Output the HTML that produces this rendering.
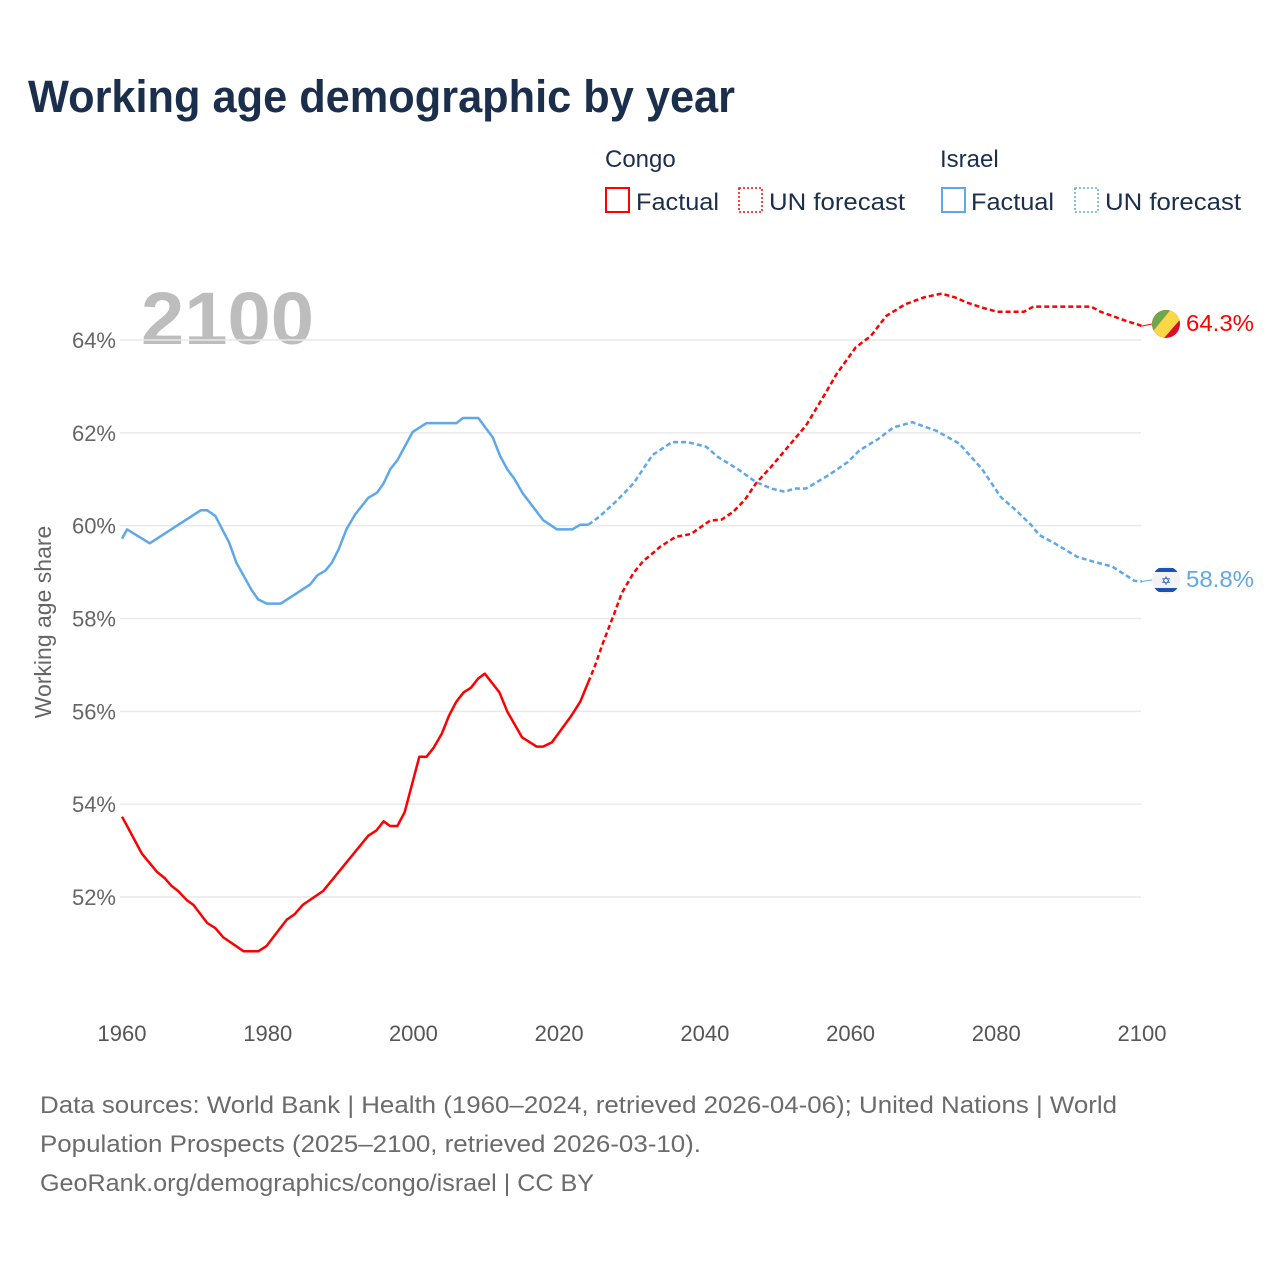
<!DOCTYPE html>
<html><head><meta charset="utf-8"><style>
html,body{margin:0;padding:0;background:#fff;}
body{width:1280px;height:1280px;overflow:hidden;font-family:"Liberation Sans",sans-serif;}
</style></head><body>
<svg id="chart" width="1280" height="1280" viewBox="0 0 1280 1280" xmlns="http://www.w3.org/2000/svg" font-family="Liberation Sans, sans-serif">
<text x="28" y="112" font-size="45" font-weight="bold" fill="#1b2f4d" textLength="707" lengthAdjust="spacingAndGlyphs">Working age demographic by year</text>
<g>
<text x="605" y="167" font-size="24" fill="#1b2f4d">Congo</text>
<text x="940" y="167" font-size="24" fill="#1b2f4d">Israel</text>
<g><rect x="606" y="188" width="23" height="24" fill="none" stroke="#f00" stroke-width="2"/><text x="636" y="210" font-size="24" fill="#1b2f4d" textLength="83" lengthAdjust="spacingAndGlyphs">Factual</text></g>
<g><rect x="739" y="188" width="23" height="24" fill="none" stroke="#f00" stroke-width="1.5" stroke-dasharray="2,2"/><text x="769" y="210" font-size="24" fill="#1b2f4d" textLength="136" lengthAdjust="spacingAndGlyphs">UN forecast</text></g>
<g><rect x="942" y="188" width="23" height="24" fill="none" stroke="#5ea8ea" stroke-width="2"/><text x="971" y="210" font-size="24" fill="#1b2f4d" textLength="83" lengthAdjust="spacingAndGlyphs">Factual</text></g>
<g><rect x="1075" y="188" width="23" height="24" fill="none" stroke="#5ea8ea" stroke-width="1.5" stroke-dasharray="2,2"/><text x="1105" y="210" font-size="24" fill="#1b2f4d" textLength="136" lengthAdjust="spacingAndGlyphs">UN forecast</text></g>
</g>
<text x="141" y="344" font-size="74" font-weight="bold" fill="#bdbdbd" textLength="173" lengthAdjust="spacingAndGlyphs">2100</text>
<g id="grid"></g>
<g id="yticks"></g>
<g id="xticks"></g>
<text transform="translate(51,622) rotate(-90)" text-anchor="middle" font-size="23" fill="#666">Working age share</text>
<g id="series"></g>
<g>
<clipPath id="cc"><circle cx="1166" cy="324" r="14"/></clipPath>
<g clip-path="url(#cc)"><rect x="1150" y="308" width="32" height="32" fill="#dc0d2a"/><polygon points="1150,308 1172,308 1150,335" fill="#6fa84a"/><polygon points="1172,308 1184,308 1184,315 1158,345 1150,345 1150,335" fill="#fcd746"/></g>
<text x="1186" y="331" font-size="23" fill="#f00" textLength="68" lengthAdjust="spacingAndGlyphs">64.3%</text>
</g>
<g>
<clipPath id="ci"><circle cx="1166" cy="580" r="14"/></clipPath>
<g clip-path="url(#ci)"><rect x="1150" y="564" width="32" height="32" fill="#f2f2f2"/><rect x="1150" y="568" width="32" height="4" fill="#1a52b5"/><rect x="1150" y="588" width="32" height="4" fill="#1a52b5"/></g>
<text x="1166" y="585" font-size="12" text-anchor="middle" fill="#1a52b5">✡</text>
<text x="1186" y="587" font-size="23" fill="#5ea8ea" textLength="68" lengthAdjust="spacingAndGlyphs">58.8%</text>
</g>
<g font-size="24" fill="#6b6b6b">
<text x="40" y="1113" textLength="1077" lengthAdjust="spacingAndGlyphs">Data sources: World Bank | Health (1960–2024, retrieved 2026-04-06); United Nations | World</text>
<text x="40" y="1152" textLength="661" lengthAdjust="spacingAndGlyphs">Population Prospects (2025–2100, retrieved 2026-03-10).</text>
<text x="40" y="1191" textLength="554" lengthAdjust="spacingAndGlyphs">GeoRank.org/demographics/congo/israel | CC BY</text>
</g>
</svg>
<script>
const yTicks=[52,54,56,58,60,62,64];
const yTickLabels=["52%","54%","56%","58%","60%","62%","64%"];
const xTicks=[1960,1980,2000,2020,2040,2060,2080,2100];
const xTickLabels=["1960","1980","2000","2020","2040","2060","2080","2100"];
const congoFactYears=[1960,1960.7,1962.7,1964.8,1965.9,1966.8,1967.7,1968.9,1969.8,1971.7,1972.8,1973.9,1976.7,1978.7,1979.8,1982.6,1983.7,1984.8,1987.6,1993.8,1994.9,1995.9,1996.8,1997.8,1998.8,2000.8,2001.8,2002.8,2003.9,2004.9,2005.9,2006.9,2007.9,2008.9,2009.8,2011.8,2012.9,2014.9,2016.9,2017.8,2019,2021.7,2022.9,2024];
const congoFactValues=[53.73,53.53,52.94,52.54,52.40,52.24,52.13,51.93,51.83,51.44,51.33,51.13,50.83,50.83,50.94,51.51,51.63,51.83,52.13,53.32,53.43,53.63,53.53,53.53,53.83,55.02,55.02,55.22,55.52,55.91,56.21,56.41,56.51,56.71,56.81,56.41,55.99,55.44,55.24,55.24,55.33,55.91,56.21,56.63];
const congoFcYears=[2024,2024.9,2026,2027.6,2028.6,2030.2,2031.5,2032.8,2033.9,2036,2038.1,2040.7,2042.3,2043.9,2045.5,2047,2049.1,2051.2,2053.9,2056.5,2058.1,2060.7,2062.8,2064.9,2067.5,2070.1,2072.5,2074.3,2075.9,2078,2080.1,2083.8,2085.1,2093,2094.3,2095.9,2098,2099.5,2100];
const congoFcValues=[56.63,56.97,57.47,58.12,58.55,58.98,59.23,59.4,59.55,59.76,59.82,60.11,60.13,60.3,60.56,60.91,61.27,61.66,62.16,62.84,63.27,63.84,64.09,64.52,64.77,64.92,65.0,64.92,64.81,64.7,64.61,64.61,64.72,64.72,64.61,64.52,64.4,64.33,64.3];
const israelFactYears=[1960,1960.7,1963.8,1970.8,1971.7,1972.8,1974.7,1975.7,1977.8,1978.7,1979.9,1981.8,1985.8,1986.8,1987.9,1988.8,1989.7,1990.8,1992,1993.8,1995,1995.9,1996.8,1997.8,1999.9,2001.8,2005.9,2006.8,2008.9,2010.9,2011.9,2012.9,2013.8,2015,2017.8,2019.7,2021.8,2022.9,2024];
const israelFactValues=[59.72,59.92,59.62,60.33,60.33,60.21,59.64,59.2,58.61,58.41,58.32,58.32,58.73,58.93,59.03,59.2,59.48,59.92,60.24,60.6,60.71,60.91,61.21,61.41,62.02,62.21,62.21,62.32,62.32,61.9,61.5,61.21,61.02,60.7,60.12,59.92,59.92,60.02,60.02];
const israelFcYears=[2024,2025.5,2028,2030.2,2032.8,2035.5,2037.6,2040.2,2041.8,2044.4,2047,2049.1,2051,2052.3,2053.9,2057,2059.6,2061.2,2063.8,2065.9,2068.5,2070,2071.7,2074.9,2078,2080.6,2082.7,2084.8,2085.9,2088,2091.1,2093.2,2095.9,2099,2100];
const israelFcValues=[60.02,60.19,60.55,60.91,61.52,61.8,61.8,61.7,61.48,61.23,60.94,60.8,60.73,60.8,60.8,61.09,61.37,61.62,61.87,62.12,62.23,62.14,62.05,61.77,61.23,60.62,60.33,60.01,59.8,59.62,59.33,59.23,59.12,58.81,58.8];

const NS="http://www.w3.org/2000/svg";
const X0=122,X1=1142,Y0=340,Y1=897;
function xs(yr){return X0+(yr-1960)*(X1-X0)/140;}
function ys(v){return Y0+(64-v)*(Y1-Y0)/12;}
function mk(tag,attrs,parent){const e=document.createElementNS(NS,tag);for(const k in attrs)e.setAttribute(k,attrs[k]);parent.appendChild(e);return e;}
const grid=document.getElementById('grid'),yt=document.getElementById('yticks'),xt=document.getElementById('xticks'),ser=document.getElementById('series');
yTicks.forEach((v,i)=>{
 const l=mk('line',{x1:120,x2:1141,y1:ys(v),y2:ys(v),stroke:'#e9e9e9','stroke-width':1.5},grid);
 
 
 const t=mk('text',{x:116,y:ys(v)+8,'text-anchor':'end','font-size':22,fill:'#666'},yt);
 t.textContent=yTickLabels[i];
 
 
});
xTicks.forEach((yr,i)=>{
 const t=mk('text',{x:xs(yr),y:1041,'text-anchor':'middle','font-size':22,fill:'#555'},xt);
 t.textContent=xTickLabels[i];
 
 
});
function line(years,vals,color,dash,name){
 const d=years.map((yr,i)=>(i?'L':'M')+xs(yr).toFixed(1)+','+ys(vals[i]).toFixed(1)).join('');
 const p=mk('path',{d:d,fill:'none',stroke:color,'stroke-width':2.5,'stroke-linejoin':'round'},ser);
 if(dash)p.setAttribute('stroke-dasharray',dash);
 
 
}
line(congoFactYears,congoFactValues,'#f00',null,'congo-factual-line');
line(congoFcYears,congoFcValues,'#f00','5,3','congo-forecast-line');
line(israelFactYears,israelFactValues,'#5ea8ea',null,'israel-factual-line');
line(israelFcYears,israelFcValues,'#5ea8ea','5,3','israel-forecast-line');
const c1=mk('line',{x1:xs(2100),y1:ys(congoFcValues[congoFcValues.length-1]),x2:1152,y2:324,stroke:'#f00','stroke-width':1},ser);


const c2=mk('line',{x1:xs(2100),y1:ys(israelFcValues[israelFcValues.length-1]),x2:1152,y2:580,stroke:'#5ea8ea','stroke-width':1},ser);


</script>
</body></html>
